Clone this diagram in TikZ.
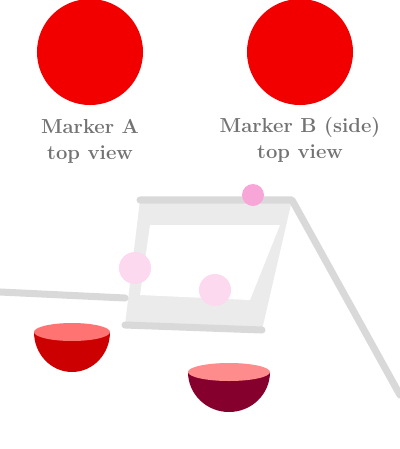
\documentclass[tikz,border=0pt]{standalone}
\usepackage{tikz}
\usetikzlibrary{positioning}

\begin{document}
\begin{tikzpicture}[
  x=0.025cm, y=-0.025cm,
  ballnode/.style={circle, fill=red!95!black, minimum size=2.65cm, inner sep=0pt},
  caption/.style={align=center, text=black!55, font=\Large\bfseries, inner sep=0pt},
  dotnode/.style={circle, fill=magenta!35, minimum size=0.55cm, inner sep=0pt},
  faintdot/.style={circle, fill=magenta!15, minimum size=0.8cm, inner sep=0pt},
  edge/.style={draw=black!15, line width=5pt, line cap=round, line join=round}
]
\useasboundingbox (0,0) rectangle (400,449);

% Markers on top
\node[ballnode] (ball_a) at (90,52) {};
\node[ballnode] (ball_b) at (300,52) {};
\node[caption, below=0.35cm of ball_a] (cap_a) {Marker A\\top view};
\node[caption, below=0.3cm of ball_b] (cap_b) {Marker B (side)\\top view};

% Frame seen in perspective
\coordinate (f_tl) at (140,200);
\coordinate (f_tr) at (292,200);
\coordinate (f_bl) at (125,325);
\coordinate (f_br) at (262,330);
\coordinate (f_far) at (400,395);
\coordinate (f_left) at (0,292);
\coordinate (f_mid) at (125,298);
\fill[black!8] (f_tl) -- (f_tr) -- (f_br) -- (f_bl) -- cycle;
\fill[white] (150,225) -- (280,225) -- (250,300) -- (140,295) -- cycle;
\draw[edge] (f_tl) -- (f_tr) -- (f_far);
\draw[edge] (f_left) -- (f_mid);
\draw[edge] (f_bl) -- (f_br);

% Contact points
\node[dotnode] (p_top) at (253,195) {};
\node[faintdot] (p_left) at (135,268) {};
\node[faintdot] (p_right) at (215,290) {};

% Cups
\fill[red!80!black] (34,332) arc[start angle=180, end angle=0, x radius=38, y radius=40] -- cycle;
\fill[red!55!white] (72,332) ellipse[x radius=38, y radius=9];
\fill[purple!70!black] (188,372) arc[start angle=180, end angle=0, x radius=41, y radius=40] -- cycle;
\fill[red!45!white] (229,372) ellipse[x radius=41, y radius=9];
\end{tikzpicture}
\end{document}
